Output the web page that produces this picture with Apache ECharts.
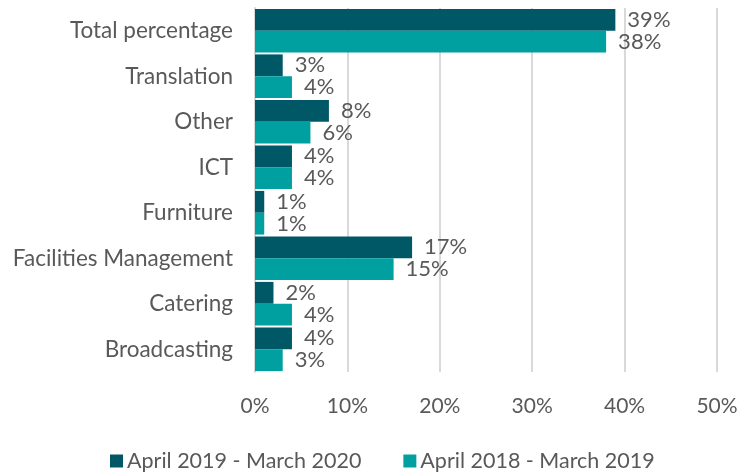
<!DOCTYPE html>
<html><head><meta charset="utf-8">
<script src="https://cdn.jsdelivr.net/npm/echarts@6/dist/echarts.min.js"></script>
<style>html,body{margin:0;padding:0;background:#fff}#c{width:744px;height:473px}</style>
</head><body><div id="c"></div>
<script>
const categories = ["Total percentage","Translation","Other","ICT","Furniture","Facilities Management","Catering","Broadcasting"];
const seriesNames = ["April 2019 - March 2020","April 2018 - March 2019"];
const values2020 = [39,3,8,4,1,17,2,4];
const values2019 = [38,4,6,4,1,15,4,3];
const xTicks = [0,10,20,30,40,50];

const chart = echarts.init(document.getElementById('c'));
const font = 'Lato, sans-serif';
const labelStyle = {show:true, position:'right', distance:12, formatter: p => p.value + '%', color:'#595959', fontSize:22, fontFamily:font};
chart.setOption({
  animation:false,
  grid:{left:255, right:27, top:8, bottom:101, containLabel:false},
  legend:{top:445, left:105, itemWidth:13, itemHeight:13, itemGap:42, icon:'rect',
    textStyle:{color:'#595959', fontSize:21.5, fontFamily:font, padding:[0,0,0,-1]}, data:seriesNames},
  xAxis:{type:'value', min:xTicks[0], max:xTicks[xTicks.length-1], interval:10,
    axisLabel:{formatter: v => v + '%', color:'#595959', fontSize:21, fontFamily:font, margin:24},
    splitLine:{lineStyle:{color:'#d9d9d9', width:2}}, axisLine:{show:false}, axisTick:{show:false}},
  yAxis:{type:'category', data:categories, inverse:true,
    axisLabel:{color:'#595959', fontSize:22.5, fontFamily:font, margin:22},
    axisLine:{show:true, lineStyle:{color:'#d9d9d9', width:2}}, axisTick:{show:false}},
  series:[
    {name:seriesNames[0], type:'bar', data:values2020, barCategoryGap:'4%', barGap:'0%',
      itemStyle:{color:'#005866'}, label:labelStyle},
    {name:seriesNames[1], type:'bar', data:values2019, barCategoryGap:'4%', barGap:'0%',
      itemStyle:{color:'#00a0a0'}, label:labelStyle}
  ]
});
</script></body></html>
